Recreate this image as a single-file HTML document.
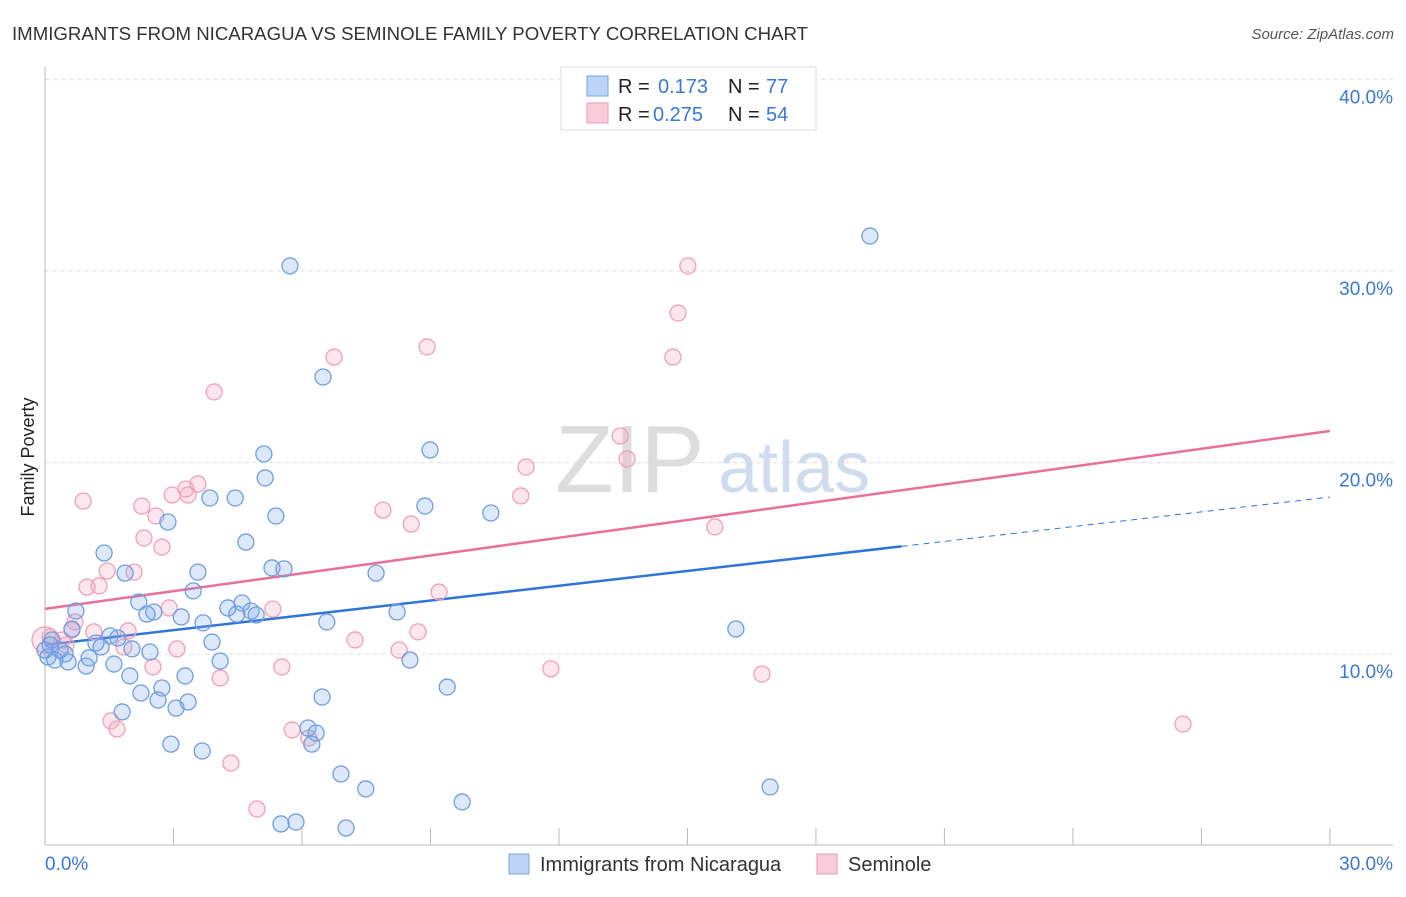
<!DOCTYPE html>
<html><head><meta charset="utf-8"><style>
body{margin:0;background:#fff;font-family:"Liberation Sans",sans-serif;}
svg text{font-family:"Liberation Sans",sans-serif;}
</style></head><body>
<svg id="chart" width="1406" height="892">
<text x="12" y="40" font-size="18" fill="#333" textLength="796" lengthAdjust="spacingAndGlyphs">IMMIGRANTS FROM NICARAGUA VS SEMINOLE FAMILY POVERTY CORRELATION CHART</text>
<text x="1394" y="39" font-size="15" fill="#555" text-anchor="end" font-style="italic">Source: ZipAtlas.com</text>
<text x="34" y="457" font-size="18" fill="#222" text-anchor="middle" transform="rotate(-90 34 457)">Family Poverty</text>
<text x="555" y="492" font-size="96" fill="#ddd" font-family="Liberation Serif">ZIP</text>
<text x="718" y="492" font-size="72" fill="#cfdcef">atlas</text>
<g id="grid"></g><g id="axes"></g><g id="lines"></g><g id="pts"></g>
<g>
<rect x="561" y="67" width="255" height="63" fill="#fff" stroke="#ddd"/>
<rect x="587" y="76" width="21" height="20" fill="#bcd4f6" stroke="#7aa6e6"/>
<text x="618" y="93" font-size="20" fill="#222">R = </text><text x="658" y="93" font-size="20" fill="#3a78d6">0.173</text>
<text x="728" y="93" font-size="20" fill="#222">N = </text><text x="766" y="93" font-size="20" fill="#3a78d6">77</text>
<rect x="587" y="103" width="21" height="20" fill="#f9ccd9" stroke="#ee9ab4"/>
<text x="618" y="121" font-size="20" fill="#222">R = </text><text x="653" y="121" font-size="20" fill="#3a78d6">0.275</text>
<text x="728" y="121" font-size="20" fill="#222">N = </text><text x="766" y="121" font-size="20" fill="#3a78d6">54</text>
</g>
<g>
<rect x="509" y="854" width="20" height="20" fill="#bcd4f6" stroke="#7aa6e6"/>
<text x="540" y="871" font-size="20" fill="#333">Immigrants from Nicaragua</text>
<rect x="817" y="854" width="20" height="20" fill="#f9ccd9" stroke="#ee9ab4"/>
<text x="848" y="871" font-size="20" fill="#333">Seminole</text>
</g>
</svg>
<script>
const yTicks=[10,20,30,40];
const xTickLabels=["0.0%","30.0%"];
const blueX=[19.26,5.72,6.49,8.99,5.11,5.14,3.85,4.44,8.87,10.41,5.39,2.87,4.69,1.38,5.30,5.58,1.87,3.57,7.73,3.46,2.19,4.60,4.27,4.81,4.93,4.48,2.54,2.38,3.18,8.22,6.58,0.72,3.69,0.63,1.52,1.70,1.19,1.31,3.90,16.13,2.03,2.45,0.16,0.35,0.47,0.07,0.23,0.54,0.96,1.03,1.61,4.09,8.52,1.98,3.27,2.73,9.39,2.24,6.47,2.64,3.34,3.06,1.80,6.14,6.33,2.94,6.23,3.67,6.91,7.49,16.93,9.74,5.51,5.86,7.03,0.12,0.00];
const blueY=[31.83,30.27,24.47,20.66,20.45,19.20,18.15,18.15,17.73,17.37,17.21,16.90,15.85,15.28,14.50,14.45,14.23,14.28,14.23,13.30,12.72,12.67,12.41,12.25,12.04,12.09,12.20,12.09,11.94,12.20,11.68,12.25,11.63,11.31,10.95,10.84,10.58,10.37,10.63,11.31,10.27,10.11,10.74,10.21,10.01,9.85,9.69,9.59,9.38,9.80,9.48,9.64,9.69,8.86,8.86,8.23,8.28,7.97,7.76,7.60,7.50,7.18,6.98,6.14,5.88,5.30,5.30,4.94,3.74,2.96,3.06,2.28,1.13,1.23,0.92,10.48,10.21];
const pinkX=[15.01,14.78,8.92,6.75,14.66,3.95,13.43,13.59,11.23,3.57,2.97,3.29,3.34,11.11,0.89,2.26,7.89,2.59,8.55,2.31,2.73,15.64,1.45,2.08,1.26,0.98,9.20,2.90,5.32,0.70,0.63,1.14,1.94,8.71,7.24,0.40,0.12,0.49,1.84,3.08,8.27,2.52,5.53,11.81,16.74,4.09,1.54,1.68,26.57,5.77,6.16,4.34,4.95,0.00];
const pinkY=[30.27,27.81,26.04,25.51,25.51,23.69,21.39,20.19,19.77,18.88,18.31,18.62,18.31,18.26,17.99,17.73,17.52,17.21,16.79,16.06,15.59,16.64,14.34,14.28,13.56,13.50,13.24,12.41,12.35,11.68,11.26,11.16,11.21,11.16,10.74,10.74,10.89,10.48,10.37,10.27,10.21,9.33,9.33,9.23,8.96,8.75,6.51,6.09,6.35,6.04,5.62,4.31,1.91,10.74];
const blueTrend=[10.48,18.2];
const pinkTrend=[12.36,21.65];
const blueSolidEnd=20;
const NS="http://www.w3.org/2000/svg";
const X=v=>45+v*42.83, Y=v=>845.6-v*19.15;
function mk(tag,attrs,parent){const e=document.createElementNS(NS,tag);for(const k in attrs)e.setAttribute(k,attrs[k]);parent.appendChild(e);return e;}
const grid=document.getElementById('grid'),axes=document.getElementById('axes'),lines=document.getElementById('lines'),pts=document.getElementById('pts');
yTicks.forEach(t=>{
 const l=mk('line',{x1:45,x2:1393,y1:Y(t),y2:Y(t),stroke:'#ddd','stroke-dasharray':'4,4'},grid);
 
 
 const tx=mk('text',{x:1393,y:Y(t)+24,'font-size':19,fill:'#3a78d6','text-anchor':'end'},grid);
 tx.textContent=t.toFixed(1)+'%';
 
 
});
mk('line',{x1:45,x2:45,y1:67,y2:845,stroke:'#bbb'},axes);
mk('line',{x1:45,x2:1393,y1:845,y2:845,stroke:'#bbb'},axes);
for(let i=0;i<=10;i++){const l=mk('line',{x1:X(i*3),x2:X(i*3),y1:828,y2:845,stroke:'#bbb'},axes);
 
 }
const xl0=mk('text',{x:45,y:870,'font-size':19,fill:'#3a78d6'},axes);xl0.textContent=xTickLabels[0];


const xl1=mk('text',{x:1393,y:870,'font-size':19,fill:'#3a78d6','text-anchor':'end'},axes);xl1.textContent=xTickLabels[1];


function ty(tr,x){return tr[0]+(tr[1]-tr[0])*x/30;}
const pl=mk('line',{x1:X(0),y1:Y(pinkTrend[0]),x2:X(30),y2:Y(pinkTrend[1]),stroke:'#e8709a','stroke-width':2.5},lines);


const bl=mk('line',{x1:X(0),y1:Y(blueTrend[0]),x2:X(blueSolidEnd),y2:Y(ty(blueTrend,blueSolidEnd)),stroke:'#2f74d6','stroke-width':2.5},lines);


const bd=mk('line',{x1:X(blueSolidEnd),y1:Y(ty(blueTrend,blueSolidEnd)),x2:X(30),y2:Y(blueTrend[1]),stroke:'#2f74d6','stroke-width':1,'stroke-dasharray':'6,5'},lines);


pinkX.forEach((x,i)=>{const c=mk('circle',{cx:X(x),cy:Y(pinkY[i]),r:i==pinkX.length-1?13:8,fill:'rgba(244,160,188,0.25)',stroke:'#f0a0b8','stroke-width':1.3},pts);
 
 });
blueX.forEach((x,i)=>{const c=mk('circle',{cx:X(x),cy:Y(blueY[i]),r:8,fill:'rgba(120,165,235,0.25)',stroke:'#6f9ee0','stroke-width':1.3},pts);
 
 });
</script>
</body></html>
